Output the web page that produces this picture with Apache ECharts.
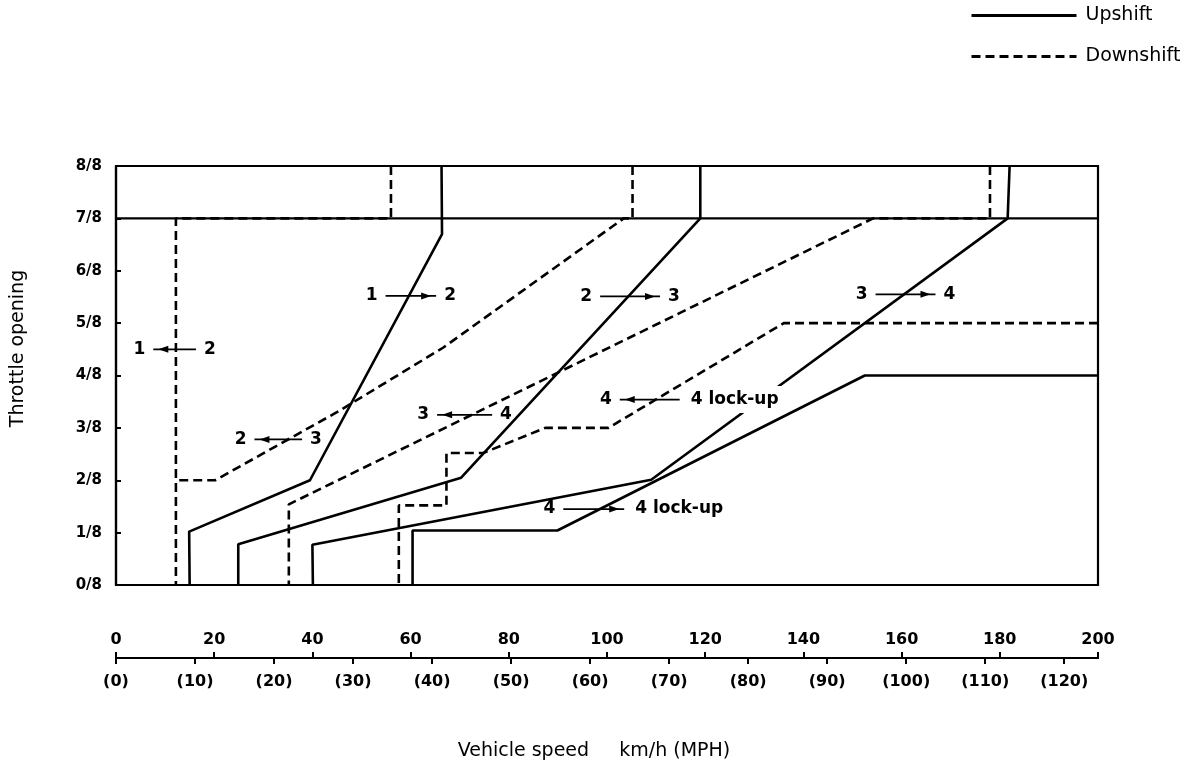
<!DOCTYPE html>
<html>
<head>
<meta charset="utf-8">
<script src="https://cdn.jsdelivr.net/npm/echarts@6/dist/echarts.min.js"></script>
<style>
  html, body { margin: 0; padding: 0; background: #fff; }
  #chart { width: 1184px; height: 772px; }
</style>
</head>
<body>
<div id="chart"></div>
<script>
// ---------- data (x = vehicle speed km/h, y = throttle opening in eighths) ----------
const throttleTicks = ['0/8', '1/8', '2/8', '3/8', '4/8', '5/8', '6/8', '7/8', '8/8'];

const upshift12      = [[66.3, 8], [66.4, 6.7], [39.5, 2.0], [14.9, 1.02], [15.0, 0]];
const upshift23      = [[119.0, 8], [119.0, 7.0], [70.3, 2.05], [24.9, 0.78], [24.9, 0]];
const upshift34      = [[182.0, 8], [181.6, 7.0], [109.0, 2.01], [40.0, 0.77], [40.1, 0]];
const upshiftLockup  = [[60.4, 0], [60.4, 1.04], [89.9, 1.04], [152.5, 4.0], [200, 4.0]];

const downshift21     = [[56.0, 8], [56.0, 7], [12.2, 7], [12.2, 0]];
const downshift32     = [[105.2, 8], [105.2, 7], [103.4, 7], [66.6, 4.53], [45.0, 3.3], [20.2, 2.0], [12.2, 2.0]];
const downshift43     = [[178.0, 8], [178.0, 7], [154.2, 7], [35.2, 1.54], [35.2, 0]];
const downshiftLockup = [[200, 5], [136, 5], [100.3, 3.0], [87.4, 3.0], [74.8, 2.52], [67.3, 2.52], [67.3, 1.52], [57.6, 1.52], [57.6, 0]];

const kickdownBoundary = [[0, 7], [200, 7]];

// annotation arrows: [from km/h, to km/h, throttle eighths]
const annotationAnchors = [
  [54.9, 65.2, 5.52], [7.6, 16.3, 4.50], [28.2, 37.9, 2.78], [65.4, 76.6, 3.25],
  [98.6, 110.8, 5.51], [102.6, 114.8, 3.54], [91.1, 103.5, 1.45], [154.7, 166.9, 5.55]
];
const annotationLeft  = ['1', '1', '2', '3', '2', '4', '4', '3'];
const annotationRight = ['2', '2', '3', '4', '3', '4 lock-up', '4 lock-up', '4'];
const annotationDir   = [1, -1, -1, -1, 1, -1, 1, 1]; // 1 = upshift arrow (right), -1 = downshift (left)

const SPEED_MIN = 0, SPEED_MAX = 200;
const KMH_PER_MPH = 1.609344;

// ---------- chart ----------
const chart = echarts.init(document.getElementById('chart'), null, { renderer: 'canvas' });
const FONT = '"DejaVu Sans", "Liberation Sans", Arial, sans-serif';

function lineSeries(name, data, dashed) {
  return {
    name: name,
    type: 'line',
    data: data,
    symbol: 'none',
    silent: true,
    z: 3,
    xAxisIndex: 0, yAxisIndex: 0,
    lineStyle: { color: '#000', width: 2.6, type: dashed ? [9, 5] : 'solid' },
    itemStyle: { color: '#000' }
  };
}

function textItem(x, y, text, align, font) {
  const long = text.length > 1;
  return {
    type: 'text', x: x, y: y,
    style: {
      text: text, font: font, fill: '#000', align: align, verticalAlign: 'middle',
      backgroundColor: long ? '#fff' : 'transparent', padding: long ? [5, 3] : 0
    }
  };
}

const option = {
  animation: false,
  backgroundColor: '#fff',
  legend: {
    data: ['Upshift', 'Downshift'],
    orient: 'vertical',
    left: 965,
    top: 1,
    itemWidth: 105,
    itemHeight: 16,
    itemGap: 22,
    selectedMode: false,
    itemStyle: { opacity: 0 },
    lineStyle: { width: 3 },
    textStyle: { fontFamily: FONT, fontSize: 19, color: '#000', padding: [0, 0, 0, 4] }
  },
  grid: [
    { left: 116, right: 86, top: 166, height: 419,
      show: true, borderColor: '#000', borderWidth: 2.2, backgroundColor: 'transparent' },
    { left: 116, right: 86, top: 657, height: 1, show: false }
  ],
  xAxis: [
    { // plot scale (km/h) — drawn by the speed scale below
      gridIndex: 0, type: 'value', min: SPEED_MIN, max: SPEED_MAX, show: false
    },
    { // km/h scale, labels above the line
      gridIndex: 1, type: 'value', min: SPEED_MIN, max: SPEED_MAX, interval: 20,
      position: 'bottom',
      name: 'Vehicle speed     km/h (MPH)',
      nameLocation: 'middle', nameGap: 84,
      nameTextStyle: { fontFamily: FONT, fontSize: 19, color: '#000', padding: [0, 26, 0, 0] },
      axisLine: { show: true, lineStyle: { color: '#000', width: 2 } },
      axisTick: { show: true, inside: true, length: 6, lineStyle: { color: '#000', width: 2 } },
      axisLabel: { inside: true, margin: 10, fontFamily: FONT, fontWeight: 'bold', fontSize: 16, color: '#000' },
      splitLine: { show: false }
    },
    { // MPH scale, labels below the line
      gridIndex: 1, type: 'value', min: SPEED_MIN / KMH_PER_MPH, max: SPEED_MAX / KMH_PER_MPH, interval: 10,
      position: 'bottom',
      axisLine: { show: true, lineStyle: { color: '#000', width: 2 } },
      axisTick: { show: true, inside: false, length: 6, lineStyle: { color: '#000', width: 2 } },
      axisLabel: {
        margin: 16, fontFamily: FONT, fontWeight: 'bold', fontSize: 16, color: '#000',
        showMaxLabel: false,
        formatter: v => (Math.abs(v % 10) < 1e-6 ? '(' + v + ')' : '')
      },
      splitLine: { show: false }
    }
  ],
  yAxis: [
    {
      gridIndex: 0, type: 'value', min: 0, max: 8, interval: 1,
      name: 'Throttle opening', nameLocation: 'middle', nameGap: 88, nameRotate: 90,
      nameTextStyle: { fontFamily: FONT, fontSize: 19, color: '#000', padding: [0, 0, 0, 54] },
      axisLine: { show: true, lineStyle: { color: '#000', width: 2.2 } },
      axisTick: { show: true, inside: true, length: 5, lineStyle: { color: '#000', width: 2 } },
      axisLabel: {
        margin: 14, fontFamily: FONT, fontWeight: 'bold', fontSize: 15, color: '#000',
        formatter: v => throttleTicks[v]
      },
      splitLine: { show: false }
    },
    { gridIndex: 1, type: 'value', min: 0, max: 1, show: false }
  ],
  series: [
    {
      name: 'Kickdown boundary', type: 'line', data: kickdownBoundary, symbol: 'none', silent: true, z: 2,
      xAxisIndex: 0, yAxisIndex: 0,
      lineStyle: { color: '#000', width: 2.2 }
    },
    lineSeries('Upshift', upshift12, false),
    lineSeries('Upshift', upshift23, false),
    lineSeries('Upshift', upshift34, false),
    lineSeries('Upshift', upshiftLockup, false),
    lineSeries('Downshift', downshift21, true),
    lineSeries('Downshift', downshift32, true),
    lineSeries('Downshift', downshift43, true),
    lineSeries('Downshift', downshiftLockup, true),
    {
      name: 'Shift labels',
      type: 'custom',
      silent: true,
      z: 10,
      xAxisIndex: 0, yAxisIndex: 0,
      data: annotationAnchors,
      encode: { x: [0, 1], y: 2 },
      renderItem: function (params, api) {
        const i = params.dataIndex;
        const a = annotationAnchors[i];
        const p1 = api.coord([a[0], a[2]]);
        const p2 = api.coord([a[1], a[2]]);
        const y = p1[1];
        const dir = annotationDir[i];
        const tip = dir > 0 ? p2[0] - 5 : p1[0] + 5;
        const back = dir > 0 ? tip - 10 : tip + 10;
        const font = 'bold 17px ' + FONT;
        return {
          type: 'group',
          children: [
            { type: 'line', shape: { x1: p1[0], y1: y, x2: p2[0], y2: y }, style: { stroke: '#000', lineWidth: 1.8 } },
            { type: 'polygon', shape: { points: [[tip, y], [back, y - 3.5], [back, y + 3.5]] }, style: { fill: '#000' } },
            textItem(p1[0] - 8, y, annotationLeft[i], 'right', font),
            textItem(p2[0] + 8, y, annotationRight[i], 'left', font)
          ]
        };
      }
    }
  ]
};

chart.setOption(option);
</script>
</body>
</html>
